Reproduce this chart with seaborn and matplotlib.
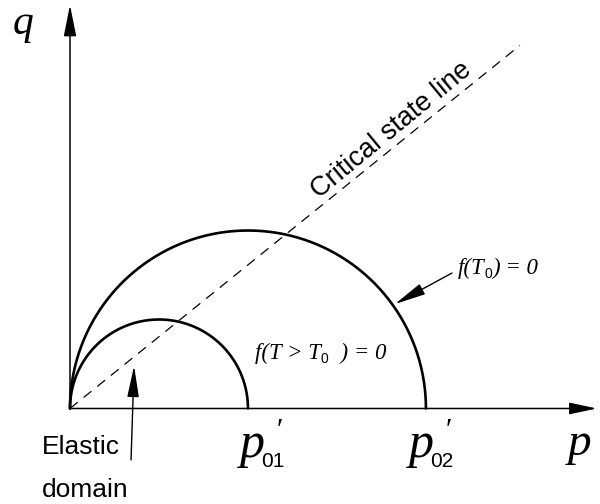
import numpy as np
import pandas as pd
import matplotlib
matplotlib.use("Agg")
import matplotlib.pyplot as plt
from matplotlib.transforms import IdentityTransform
import seaborn as sns

# Yield surfaces in the p'-q plane: preconsolidation pressures for T > T0 and T0
p0_values = [1.0, 2.0]
curve_names = ["f(T > T0) = 0", "f(T0) = 0"]
p0_subscripts = ["01", "02"]
csl_slope = 0.807          # M, slope of the critical state line
csl_end = 2.528            # extent of the drawn critical state line along p'

sns.set_theme(style="white")
plt.rcParams["font.family"] = ["Liberation Sans", "DejaVu Sans"]

fig = plt.figure(figsize=(6.0, 5.04), dpi=100)
ax = fig.add_axes([0, 0, 1, 1])
ax.set_xlim(-0.3933, 2.978)
ax.set_ylim(-0.5365, 2.295)
ax.set_aspect("equal")
ax.axis("off")

# Semicircular yield loci
theta = np.linspace(np.pi, 0, 400)
frames = []
for name, p0 in zip(curve_names, p0_values):
    r = p0 / 2
    frames.append(pd.DataFrame({"p": r + r * np.cos(theta),
                                "q": r * np.sin(theta),
                                "curve": name}))
loci = pd.concat(frames, ignore_index=True)
sns.lineplot(data=loci, x="p", y="q", units="curve", estimator=None,
             sort=False, color="black", lw=1.9, ax=ax, legend=False)

# Critical state line q = M p'
csl = pd.DataFrame({"p": [0.0, csl_end], "q": [0.0, csl_slope * csl_end]})
sns.lineplot(data=csl, x="p", y="q", color="black", lw=0.9, ax=ax,
             linestyle=(0, (8, 6)), legend=False)

# Axes with arrowheads
axis_arrow = dict(arrowstyle="-|>,head_length=1.6,head_width=0.32",
                  color="black", lw=1.1, shrinkA=0, shrinkB=0)
ax.annotate("", xy=(0, 2.267), xytext=(0, 0), arrowprops=axis_arrow)
ax.annotate("", xy=(2.96, 0), xytext=(0, 0),
            arrowprops=dict(axis_arrow,
                            arrowstyle="-|>,head_length=1.4,head_width=0.3"))

serif_it = dict(family=["Liberation Serif", "DejaVu Serif"], style="italic",
                color="black")
sans = dict(family=["Liberation Sans", "DejaVu Sans"], color="black")

fig.canvas.draw()
renderer = fig.canvas.get_renderer()


def chained_text(x, y, pieces):
    """Write text pieces one after another from (x, y) on a common baseline."""
    x0, y0 = ax.transData.transform((x, y))
    for s, props, size, dy in pieces:
        t = ax.text(x0, y0 + dy * fig.dpi / 72, s, fontsize=size,
                    transform=IdentityTransform(), ha="left", va="baseline",
                    **props)
        bb = t.get_window_extent(renderer)
        x0 = bb.x1


# Axis labels
ax.text(-0.322, 2.104, "q", fontsize=30, ha="left", va="baseline", **serif_it)
ax.text(2.798, -0.261, "p", fontsize=34, ha="left", va="baseline", **serif_it)
ax.text(2.968, -0.20, "\u2032", fontsize=24, ha="left", va="baseline",
        **serif_it)

# p'_01 and p'_02 labels under the loci
for p_left, sub in zip([0.955, 1.904], p0_subscripts):
    ax.text(p_left, -0.275, "p", fontsize=36, ha="left", va="baseline",
            **serif_it)
    ax.text(p_left + 0.195, -0.175, "\u2032", fontsize=22, ha="left",
            va="baseline", **serif_it)
    ax.text(p_left + 0.118, -0.330, sub, fontsize=15, ha="left",
            va="baseline", **sans)

# Critical state line label
ax.text(1.809, 1.565, "Critical state line", fontsize=19.5, rotation=39.5,
        rotation_mode="anchor", ha="center", va="center", color="black")

# Yield surface labels
chained_text(2.180, 0.755, [("f(T", serif_it, 16.5, 0),
                            ("0", sans, 10, -3),
                            (") = 0", serif_it, 16.5, 0)])
chained_text(1.039, 0.278, [("f(T > T", serif_it, 16.5, 0),
                            ("0", sans, 10, -3),
                            ("  ) = 0", serif_it, 16.5, 0)])

pointer = dict(arrowstyle="-|>,head_length=1.6,head_width=0.3",
               color="black", lw=1.0, shrinkA=0, shrinkB=0)
ax.annotate("", xy=(1.826, 0.587), xytext=(2.146, 0.761), arrowprops=pointer)
ax.annotate("", xy=(0.360, 0.239), xytext=(0.343, -0.289), arrowprops=pointer)

# Elastic domain label
ax.text(-0.157, -0.256, "Elastic", fontsize=19, ha="left", va="baseline",
        **sans)
ax.text(-0.157, -0.497, "domain", fontsize=19, ha="left", va="baseline",
        **sans)

fig.savefig("out.png", dpi=100)
